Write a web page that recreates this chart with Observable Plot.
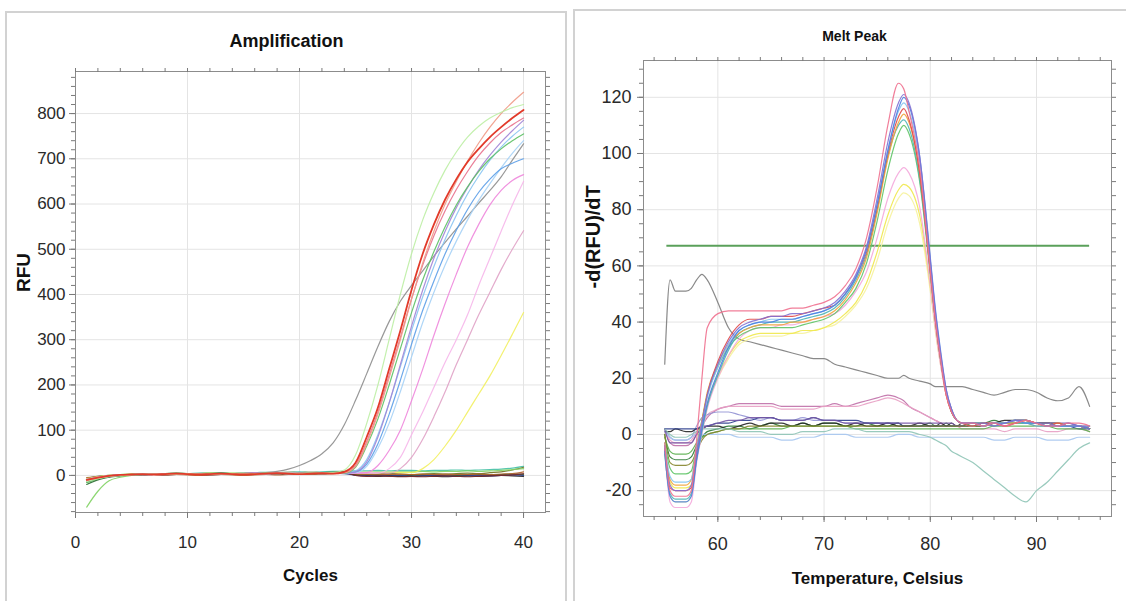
<!DOCTYPE html>
<html><head><meta charset="utf-8">
<script src="https://cdn.jsdelivr.net/npm/d3@7"></script>
<script src="https://cdn.jsdelivr.net/npm/@observablehq/plot@0.6"></script>
<style>
html,body{margin:0;padding:0;background:#fff;}
#wrap{position:relative;width:1126px;height:601px;overflow:hidden;background:#fff;}
.panel{position:absolute;border:2px solid #d2d2d2;box-sizing:border-box;z-index:2;pointer-events:none;}
#pl{left:5px;top:11px;width:562px;height:600px;border-bottom:none;}
#pr{left:573px;top:9px;width:560px;height:600px;border-bottom:none;border-right:none;}
.plot{position:absolute;top:0;z-index:1;}
</style></head><body><div id="wrap"><div class="panel" id="pl"></div><div class="panel" id="pr"></div></div>
<script>
// ---------- Amplification data ----------
const cycles = [1,2,3,4,5,6,7,8,9,10,11,12,13,14,15,16,17,18,19,20,21,22,23,24,25,26,27,28,29,30,31,32,33,34,35,36,37,38,39,40];
const ampXMajor = [0,10,20,30,40];
const ampXMinor = [0,2,4,6,8,10,12,14,16,18,20,22,24,26,28,30,32,34,36,38,40];
const ampYMajor = [0,100,200,300,400,500,600,700,800];
const ampYMinor = [-80,-60,-40,-20,0,20,40,60,80,100,120,140,160,180,200,220,240,260,280,300,320,340,360,380,400,420,440,460,480,500,520,540,560,580,600,620,640,660,680,700,720,740,760,780,800,820,840,860,880];
const ampXDomain = [0, 41.96];
const ampYDomain = [-82, 893];

const ampDarkGreen = [-20,-10,-4,-1,1,2,3,3,4,3, 4,5,4,3,4,5,4,5,6,5, 4,5,6,7,2,0,1,0,-1,0, 1,0,-1,0,1,2,1,2,3,2];
const ampBlack     = [-15,-8,-3,0,1,2,2,3,2,3, 3,2,3,4,3,3,4,4,5,4, 5,4,5,6,1,-1,-2,-1,-2,-2, -1,-2,-3,-2,-1,-2,-1,0,-1,-2];
const ampNavy      = [-10,-5,-2,1,2,1,2,3,3,2, 3,3,2,3,4,3,2,3,4,3, 4,4,5,4,0,-1,0,-1,0,-2, -1,0,-1,-2,-1,0,-1,0,1,0];
const ampTeal      = [-6,-2,0,2,3,3,4,4,5,4, 5,5,6,5,6,6,7,6,7,8, 7,8,9,9,10,10,11,10,11,11, 10,11,11,12,11,12,13,14,16,20];
const ampOlive     = [-12,-6,-2,1,3,4,3,4,5,4, 3,4,5,4,5,6,5,6,7,6, 7,6,7,8,3,2,3,4,3,2, 3,4,3,4,5,4,6,8,12,18];
const ampLime      = [-70,-35,-12,-4,0,2,3,2,3,3, 4,3,4,3,4,4,5,4,5,5, 6,5,6,6,7,7,8,7,8,8, 9,8,9,9,10,9,10,11,13,15];
const ampBrown     = [-5,-2,0,1,2,1,2,1,2,1, 0,1,2,1,0,1,2,1,2,3, 2,3,4,5,4,3,3,2,3,2, 3,2,3,2,2,3,2,3,4,8];
const ampDarkRed   = [-8,-4,-1,1,2,3,2,1,2,3, 2,1,2,3,2,3,4,3,4,5, 4,5,6,6,0,-2,-1,-2,-3,-2, -3,-2,-1,-2,-3,-2,-1,0,1,4];

const ampGray      = [-8,-4,-1,1,2,2,3,3,2,3, 3,4,3,4,4,5,6,9,14,22, 33,48,72,112,166,225,285,340,385,420, 452,485,515,545,573,602,630,660,697,733];
const ampPaleGreen = [-14,-7,-2,0,2,3,3,2,3,4, 3,3,4,4,3,4,4,5,5,4, 5,5,6,12,45,115,200,300,400,490, 565,625,675,715,748,772,790,803,813,820];
const ampSalmon    = [-12,-6,-2,0,1,2,3,3,2,3, 3,2,3,4,3,3,4,4,5,4, 4,5,5,6,20,70,135,215,300,390, 470,540,600,650,695,735,770,800,825,847];
const ampPinkRed   = [-9,-4,-1,1,2,2,3,2,3,3, 4,3,3,4,4,3,4,5,4,5, 5,4,5,6,22,75,140,222,305,390, 465,530,585,632,672,707,735,758,775,790];
const ampGreen     = [-16,-8,-3,0,1,2,2,3,3,2, 3,4,3,3,4,4,5,4,4,5, 6,5,6,5,18,65,125,200,280,360, 432,495,550,598,638,672,700,722,740,755];
const ampPurple    = [-11,-5,-1,1,2,3,3,3,2,3, 3,4,4,3,4,5,4,5,5,4, 5,6,5,5,8,30,85,160,245,330, 410,480,540,592,636,675,708,737,762,785];
const ampLightBlue = [-13,-6,-2,0,1,2,3,2,3,3, 4,3,4,4,3,4,4,5,4,5, 5,5,6,5,10,35,90,160,240,320, 395,462,522,575,622,662,697,726,750,770];
const ampBlue      = [-10,-5,-2,1,2,2,2,3,3,3, 3,3,4,3,4,4,4,5,5,4, 5,5,5,6,8,25,70,135,210,290, 365,430,490,542,588,626,655,678,690,700];
const ampSky       = [-8,-4,-1,1,2,3,3,3,4,3, 3,4,3,4,5,4,4,5,5,5, 6,5,6,5,6,20,60,115,185,262, 338,405,465,518,565,608,645,680,712,740];
const ampPink      = [-12,-6,-2,0,2,2,3,3,3,4, 3,4,4,3,4,5,4,5,5,4, 5,5,6,5,5,6,22,55,100,165, 235,310,380,445,505,555,598,630,652,665];
const ampPink2     = [-9,-4,-1,1,2,2,3,3,3,3, 4,3,4,4,4,5,4,4,5,5, 5,6,5,6,5,6,5,15,40,90, 140,195,250,300,355,420,480,540,598,650];
const ampMauve     = [-10,-5,-1,1,2,3,3,2,3,3, 4,4,3,4,4,4,5,5,4,5, 5,6,5,6,6,5,6,5,15,40, 80,130,185,245,300,355,405,455,500,541];
const ampYellow    = [-7,-3,0,2,3,3,4,4,3,4, 4,5,4,5,5,4,5,6,5,5, 6,6,5,6,6,7,6,7,6,6, 15,35,65,100,140,180,220,265,312,360];
const ampRed       = [-10,-5,-1,1,2,3,2,3,4,3, 2,3,4,3,2,3,4,5,4,3, 4,5,4,8,28,85,150,235,320,410, 490,555,610,655,693,722,748,770,790,808];

// ---------- Melt peak data ----------
const temps = [55,55.5,56,57,57.5,58,58.5,59,60,61, 62,63,64,65,66,67,68,69,70,71, 72,73,74,75,76,77,77.5,78,79,80, 80.5,81,81.5,82,82.5,83,84,85,86,87, 88,89,90,91,92,93,94,95];
const meltXMajor = [60,70,80,90];
const meltXMinor = [54,56,58,60,62,64,66,68,70,72,74,76,78,80,82,84,86,88,90,92,94,96];
const meltYMajor = [-20,0,20,40,60,80,100,120];
const meltYMinor = [-25,-20,-15,-10,-5,0,5,10,15,20,25,30,35,40,45,50,55,60,65,70,75,80,85,90,95,100,105,110,115,120,125,130];
const meltXDomain = [53, 97.06];
const meltYDomain = [-29.2, 133.1];
const meltThreshold = [67.2];
const meltThresholdSpan = [55.2, 95];

const meltMagenta  = [2,-3,-4,-4,-3,0,3,6,9,10, 11,11,11,11,10,10,10,10,10,11, 10,11,12,13,14,13,12,10,8,6, 5,4,3,3,3,3,3,3,4,3, 4,4,4,3,3,3,3,2];
const meltPinkLow  = [1,-2,-3,-3,-2,1,4,7,9,10, 10,10,10,10,9,9,9,9,10,10, 10,10,11,12,13,12,11,10,8,6, 5,4,3,3,3,2,2,2,2,1, 2,2,2,1,1,2,2,1];
const meltLavender = [2,-1,-2,-2,-1,3,6,7,8,8, 7,6,5,6,5,5,6,5,5,5, 4,4,4,4,3,3,3,3,3,3, 3,3,3,3,3,3,3,3,4,4, 5,4,4,4,3,3,3,2];
const meltDarkGreen= [0,-8,-9,-9,-8,-4,-1,1,2,3, 3,2,3,4,3,3,4,3,4,4, 3,3,4,3,3,4,3,3,3,4, 3,3,4,3,3,3,4,4,5,4, 5,5,4,4,3,3,3,2];
const meltBlack    = [1,1,2,1,1,2,2,3,3,2, 3,4,3,4,4,3,4,3,4,4, 3,4,3,3,4,3,3,3,4,3, 3,4,3,4,3,4,4,3,4,5, 5,5,4,4,4,3,3,2];
const meltNavy     = [2,2,2,2,2,2,3,3,4,4, 5,5,6,6,5,5,5,6,5,5, 5,5,4,4,4,4,3,3,3,3, 3,3,3,3,3,3,3,3,4,4, 4,4,4,3,3,3,2,2];
const meltGreenLow = [-1,-6,-7,-7,-6,-3,-1,0,1,2, 2,2,2,2,2,3,3,3,3,3, 3,2,2,2,2,2,2,2,2,2, 2,2,2,2,2,2,2,2,3,3, 3,3,3,3,2,2,2,1];
const meltSky      = [1,-1,-2,-2,-1,0,0,0,0,0, -1,-1,-1,-1,-2,-2,-1,-1,0,0, 0,-1,-1,-1,-1,0,0,0,-1,-1, -1,-1,-1,-1,-1,-1,-1,-1,-2,-2, -1,-1,-1,-2,-2,-2,-1,-1];
const meltViolet   = [2,-3,-3,-3,-3,0,2,3,4,5, 5,6,6,6,5,5,5,6,5,5, 4,4,4,4,4,4,4,4,4,4, 4,4,4,4,3,3,3,4,4,4, 5,5,4,4,4,4,3,2];
const meltOlive    = [0,-10,-11,-11,-10,-6,-2,0,1,2, 2,3,3,3,3,3,3,3,3,3, 3,3,3,3,3,3,3,3,3,3, 3,3,3,3,3,3,3,3,4,4, 4,4,4,4,3,3,3,2];
const meltTealDip  = [2,0,-1,-1,0,1,2,2,2,2, 1,1,1,0,0,0,1,1,1,2, 2,2,1,1,1,1,1,1,0,-1, -2,-3,-4,-6,-7,-8,-10,-13,-16,-19, -22,-24,-20,-17,-13,-9,-5,-3];
const meltGray     = [25,55,51,51,52,55,57,55,47,38, 34,33,32,31,30,29,28,27,27,25, 24,23,22,21,20,20,21,20,19,18, 17,17,17,17,17,17,16,15,14,15, 16,16,15,13,12,13,17,10];
const meltPaleYellow=[-6,-22,-24,-24,-22,-8,1,10,20,27, 32,34,35,35,35,36,36,37,38,39, 42,46,52,62,75,84,86,85,75,51, 36,24,14,8,5,4,3,4,3,4, 4,4,3,3,3,3,3,2];
const meltYellow   = [-4,-17,-19,-19,-18,-6,3,11,21,28, 33,35,36,36,36,36,37,37,38,40, 43,47,54,65,78,87,89,88,78,53, 38,25,14,8,5,4,4,3,4,4, 4,5,4,3,4,3,3,2];
const meltLightPink= [-5,-24,-26,-26,-24,-10,0,9,20,28, 34,37,38,38,39,39,40,41,42,43, 46,51,58,70,84,93,95,93,81,53, 37,24,14,8,5,4,4,3,4,3, 4,4,3,3,3,3,3,2];
const meltGreen    = [-3,-12,-14,-14,-13,-4,5,14,24,31, 35,37,38,38,38,38,39,40,41,43, 47,52,61,76,94,107,110,107,90,57, 40,26,15,8,5,4,4,4,3,4, 4,4,4,3,3,3,3,2];
const meltTeal     = [-7,-21,-23,-23,-21,-9,1,10,21,30, 36,38,39,40,40,40,41,42,43,45, 49,55,64,80,99,110,112,109,91,58, 40,26,15,8,5,4,3,4,3,4, 4,4,3,3,3,3,3,2];
const meltOrange   = [-4,-16,-18,-18,-16,-5,5,15,25,32, 36,38,39,39,39,40,40,41,42,44, 48,54,63,79,98,111,114,111,93,59, 41,27,15,9,5,4,4,3,4,4, 4,5,4,3,3,3,3,3];
const meltRed      = [-5,-19,-20,-20,-19,-7,4,14,26,34, 39,41,41,42,42,42,43,44,45,46, 50,56,65,81,100,113,116,112,93,58, 40,26,14,8,5,4,3,4,4,3, 4,5,4,3,4,3,3,2];
const meltLightBlue= [-4,-15,-17,-17,-16,-5,4,13,24,32, 37,39,40,41,41,41,42,43,44,46, 50,56,66,82,101,115,118,115,97,61, 42,27,15,9,5,4,4,3,4,4, 5,4,4,3,3,3,3,3];
const meltBlue     = [-6,-22,-24,-24,-22,-9,2,11,22,31, 37,39,40,40,41,41,42,43,44,46, 50,56,66,82,101,116,120,117,99,63, 44,29,16,9,5,4,4,3,4,4, 5,4,4,3,3,3,3,2];
const meltPurple   = [-4,-18,-20,-20,-18,-6,4,14,25,33, 38,40,41,42,42,43,43,44,45,47, 51,57,67,84,104,118,121,118,99,62, 43,28,16,9,5,4,4,4,3,4, 5,5,4,4,3,4,3,3];
const meltPinkRed  = [-3,-20,-22,-22,-20,-2,20,38,43,44, 44,44,44,44,44,45,45,46,47,49, 53,59,70,88,110,125,123,115,95,58, 40,26,14,8,5,4,4,3,4,3, 4,5,4,3,3,4,4,3];

// ---------- labels ----------
const ampTitle = "Amplification", ampXLabel = "Cycles", ampYLabel = "RFU";
const meltTitle = "Melt Peak", meltXLabel = "Temperature, Celsius", meltYLabel = "-d(RFU)/dT";

// ---------- styles (colours) ----------
const ampSeries = [
  ["dkgreen", ampDarkGreen, "#2a6e30"], ["black", ampBlack, "#222222"], ["navy", ampNavy, "#2c3f8c"],
  ["teal", ampTeal, "#44c0a4"], ["olive", ampOlive, "#70701f"], ["lime", ampLime, "#7fd262"],
  ["brown", ampBrown, "#b0602a"], ["darkred", ampDarkRed, "#7a2a2a"],
  ["gray", ampGray, "#8d8d8d"], ["yellow", ampYellow, "#f2f060"], ["mauve", ampMauve, "#e0a2c6"],
  ["pink2", ampPink2, "#f6b6ea"], ["pink", ampPink, "#ee86dc"], ["sky", ampSky, "#a6d2f6"],
  ["blue", ampBlue, "#5c9ee8"], ["lightblue", ampLightBlue, "#88c4f2"], ["purple", ampPurple, "#a184d6"],
  ["green", ampGreen, "#5cc064"], ["pinkred", ampPinkRed, "#e8708c"], ["salmon", ampSalmon, "#f09a86"],
  ["palegreen", ampPaleGreen, "#bdeea4"]
];
const ampHighlight = [["red", ampRed, "#e23a2a"]];

const meltSeries = [
  ["magenta", meltMagenta, "#c070a8"], ["pinklow", meltPinkLow, "#e8a0c4"], ["lavender", meltLavender, "#9494d4"],
  ["dkgreen", meltDarkGreen, "#2e7a36"], ["black", meltBlack, "#262626"], ["navy", meltNavy, "#2e3e8e"],
  ["greenlow", meltGreenLow, "#5cb050"], ["sky", meltSky, "#a6c6f0"], ["violet", meltViolet, "#7656a6"],
  ["olive", meltOlive, "#86862e"], ["tealdip", meltTealDip, "#8ec4b6"], ["gray", meltGray, "#7c7c7c"],
  ["paleyellow", meltPaleYellow, "#f6f29c"], ["yellow", meltYellow, "#f0e84c"], ["lightpink", meltLightPink, "#f4a8dc"],
  ["green", meltGreen, "#5ec466"], ["teal", meltTeal, "#4cb4b4"], ["orange", meltOrange, "#f0a43a"],
  ["red", meltRed, "#e04848"], ["lightblue", meltLightBlue, "#84c4f0"], ["blue", meltBlue, "#4c80e2"],
  ["purple", meltPurple, "#8270d2"], ["pinkred", meltPinkRed, "#f0708e"]
];

function toRows(xs, list) {
  const out = [];
  for (const [name, vals, color] of list) vals.forEach((v, i) => out.push({x: xs[i], y: v, s: name, color}));
  return out;
}

const narrow = "'Liberation Sans',Arial,sans-serif";
const wide = "'Liberation Sans',Arial,sans-serif";
const tickStroke = "#7a7a7a", labelFill = "#2a2a2a", gridStroke = "#e4e4e4";
const fmt = d => String(d);

function panel(cfg) {
  return Plot.plot({
    width: cfg.width, height: 601,
    marginLeft: cfg.ml, marginRight: cfg.mr, marginTop: cfg.mt, marginBottom: cfg.mb,
    x: {domain: cfg.xDomain, label: null},
    y: {domain: cfg.yDomain, label: null},
    color: {type: "identity"},
    style: {fontFamily: narrow, fontSize: cfg.tickFont, background: "transparent", overflow: "visible", color: labelFill},
    marks: [
      Plot.gridX(cfg.xMajor, {stroke: gridStroke, strokeOpacity: 1}),
      Plot.gridY(cfg.yMajor, {stroke: gridStroke, strokeOpacity: 1}),
      ...(cfg.extra || []),
      Plot.line(cfg.rows, {x: "x", y: "y", z: "s", stroke: "color", strokeWidth: 1.2, strokeOpacity: 0.9, curve: "monotone-x"}),
      ...(cfg.highlight ? [Plot.line(cfg.highlight, {x: "x", y: "y", z: "s", stroke: "color", strokeWidth: 1.8, curve: "monotone-x"})] : []),
      Plot.frame({stroke: "#8c8c8c"}),
      Plot.axisX(cfg.xMajor, {tickSize: 6, tickPadding: cfg.xPad, label: null, stroke: tickStroke, fill: labelFill, tickFormat: fmt}),
      Plot.axisX(cfg.xMinor, {tickSize: 4, fill: "none", label: null, stroke: tickStroke}),
      Plot.axisX(cfg.xMinor, {anchor: "top", tickSize: 4, fill: "none", label: null, stroke: tickStroke}),
      Plot.axisY(cfg.yMajor, {tickSize: 6, tickPadding: cfg.yPad, label: null, stroke: tickStroke, fill: labelFill, tickFormat: fmt}),
      Plot.axisY(cfg.yMinor, {tickSize: 4, fill: "none", label: null, stroke: tickStroke}),
      Plot.axisY(cfg.yMinor, {anchor: "right", tickSize: 4, fill: "none", label: null, stroke: tickStroke}),
      Plot.text([cfg.title], {text: d => d, frameAnchor: "top", dx: cfg.titleDx, dy: cfg.titleDy, fontSize: cfg.titleSize, fontWeight: "bold", lineAnchor: "middle", fill: "#111"}),
      Plot.text([cfg.xLabel], {text: d => d, frameAnchor: "bottom", dy: cfg.xLabelDy, fontSize: 17, fontWeight: "bold", lineAnchor: "middle", fill: "#111"}),
      Plot.text([cfg.yLabel], {text: d => d, frameAnchor: "left", dx: cfg.yLabelDx, rotate: -90, fontSize: cfg.yLabelSize, fontWeight: "bold", fontFamily: wide, lineAnchor: "middle", fill: "#111"})
    ]
  });
}

const left = panel({
  width: 566, ml: 75, mr: 21, mt: 71, mb: 89, tickFont: "17px",
  xDomain: ampXDomain, yDomain: ampYDomain,
  xMajor: ampXMajor, xMinor: ampXMinor, yMajor: ampYMajor, yMinor: ampYMinor,
  rows: toRows(cycles, ampSeries), highlight: toRows(cycles, ampHighlight),
  xPad: 17, yPad: 4,
  title: ampTitle, titleDx: -24, titleDy: -30, titleSize: 18,
  xLabel: ampXLabel, xLabelDy: 63,
  yLabel: ampYLabel, yLabelDx: -52, yLabelSize: 19
});
left.classList.add("plot");
left.style.left = "0px";

const right = panel({
  width: 560, ml: 77, mr: 15, mt: 60, mb: 85, tickFont: "18px",
  xDomain: meltXDomain, yDomain: meltYDomain,
  xMajor: meltXMajor, xMinor: meltXMinor, yMajor: meltYMajor, yMinor: meltYMinor,
  rows: toRows(temps, meltSeries),
  extra: [Plot.ruleY(meltThreshold, {x1: meltThresholdSpan[0], x2: meltThresholdSpan[1], stroke: "#5aa05a", strokeWidth: 2})],
  xPad: 15, yPad: 6,
  title: meltTitle, titleDx: -23, titleDy: -24, titleSize: 14,
  xLabel: meltXLabel, xLabelDy: 62,
  yLabel: meltYLabel, yLabelDx: -50, yLabelSize: 20
});
right.classList.add("plot");
right.style.left = "566px";

const wrap = document.getElementById("wrap");
wrap.appendChild(left);
wrap.appendChild(right);
</script>
</body></html>
